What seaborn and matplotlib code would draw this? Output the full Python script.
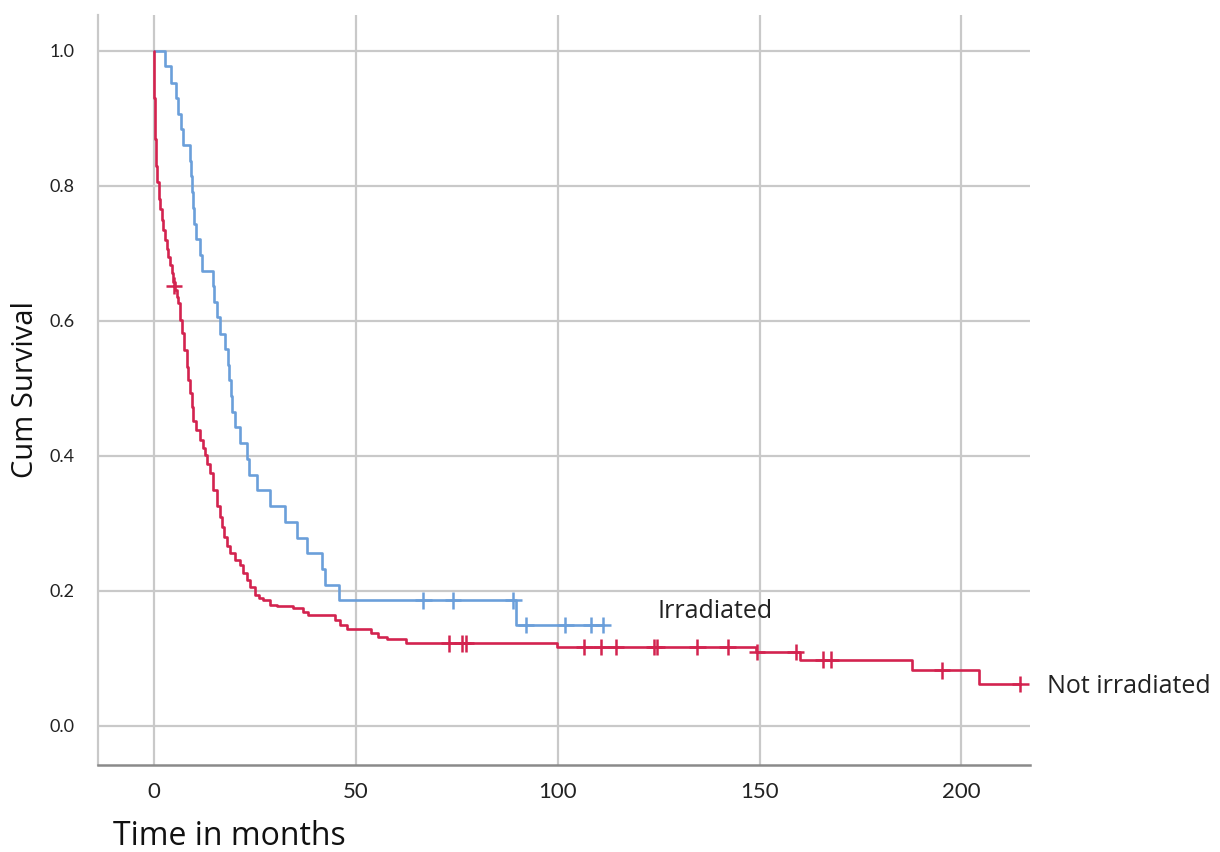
import pandas as pd
import matplotlib
matplotlib.use("Agg")
import matplotlib.pyplot as plt
import seaborn as sns

# Irradiated group: step times (months) and cumulative survival after each step
irr_time = [0, 2.7, 4.2, 5.5, 5.9, 6.7, 7.2, 8.9, 9.2, 9.4, 9.6, 9.8, 10.5, 11.4, 11.9,
            14.6, 14.9, 15.6, 16.4, 17.6, 18.3, 18.6, 19.0, 19.3, 20.1, 21.3, 22.9,
            23.4, 25.6, 28.7, 32.5, 35.4, 37.8, 41.6, 42.4, 45.7, 89.7, 111.2]
irr_surv = [1.000, 0.977, 0.953, 0.930, 0.907, 0.884, 0.860, 0.837, 0.814, 0.791,
            0.767, 0.744, 0.721, 0.698, 0.674, 0.651, 0.628, 0.605, 0.581, 0.558,
            0.535, 0.512, 0.488, 0.465, 0.442, 0.419, 0.395, 0.372, 0.349, 0.326,
            0.302, 0.279, 0.256, 0.233, 0.209, 0.186, 0.149, 0.149]
irr_cens_time = [66.7, 74.0, 89.0, 92.1, 101.9, 108.2, 111.2]
irr_cens_surv = [0.186, 0.186, 0.186, 0.149, 0.149, 0.149, 0.149]

# Not irradiated group
not_time = [0, 0.1, 0.25, 0.5, 0.7, 1.1, 1.5, 1.9, 2.3, 2.7, 3.1, 3.5, 4.0, 4.4, 4.8,
            5.2, 5.6, 6.0, 6.4, 6.9, 7.4, 8.1, 8.5, 8.9, 9.3, 9.7, 10.5, 11.4, 12.0,
            12.6, 13.2, 13.9, 14.6, 15.5, 16.4, 16.8, 17.3, 18.0, 18.8, 20.1, 21.3,
            22.1, 23.0, 23.8, 25.0, 26.0, 27.1, 28.7, 30.4, 34.4, 36.8, 38.2, 44.8,
            46.1, 47.8, 53.8, 55.5, 57.7, 62.5, 99.8, 149.0, 160.1, 187.8, 204.3, 214.6]
not_surv = [1.000, 0.930, 0.870, 0.830, 0.805, 0.780, 0.765, 0.750, 0.735, 0.720,
            0.707, 0.695, 0.683, 0.671, 0.658, 0.646, 0.636, 0.626, 0.601, 0.582,
            0.557, 0.532, 0.512, 0.493, 0.472, 0.452, 0.438, 0.424, 0.412, 0.401,
            0.388, 0.374, 0.350, 0.325, 0.310, 0.295, 0.280, 0.266, 0.256, 0.246,
            0.239, 0.226, 0.216, 0.206, 0.194, 0.190, 0.187, 0.179, 0.177, 0.174,
            0.169, 0.164, 0.157, 0.150, 0.144, 0.138, 0.132, 0.128, 0.122, 0.117,
            0.109, 0.098, 0.082, 0.062, 0.062]
not_cens_time = [5.0, 73.1, 76.4, 77.3, 106.6, 110.7, 114.5, 123.9, 124.5, 134.6,
                 142.1, 149.3, 158.9, 165.7, 167.7, 195.2, 214.6]
not_cens_surv = [0.652, 0.122, 0.122, 0.122, 0.117, 0.117, 0.117, 0.117, 0.117, 0.117,
                 0.117, 0.109, 0.109, 0.098, 0.098, 0.082, 0.062]

groups = ["Irradiated", "Not irradiated"]
colors = {"Irradiated": "#6b9fda", "Not irradiated": "#d3234f"}

curves = pd.concat([
    pd.DataFrame({"Time": irr_time, "Surv": irr_surv, "Group": groups[0]}),
    pd.DataFrame({"Time": not_time, "Surv": not_surv, "Group": groups[1]}),
])
censored = pd.concat([
    pd.DataFrame({"Time": irr_cens_time, "Surv": irr_cens_surv, "Group": groups[0]}),
    pd.DataFrame({"Time": not_cens_time, "Surv": not_cens_surv, "Group": groups[1]}),
])

sns.set_theme(style="whitegrid")
plt.rcParams["font.family"] = ["Lato", "DejaVu Sans"]
label_font = ["Open Sans", "DejaVu Sans"]

fig = plt.figure(figsize=(12.2, 8.52), dpi=100)
ax = fig.add_axes([0.0803, 0.1021, 0.764, 0.8803])

sns.lineplot(data=curves, x="Time", y="Surv", hue="Group", palette=colors,
             estimator=None, sort=False, drawstyle="steps-post", linewidth=1.9,
             legend=False, ax=ax)
sns.scatterplot(data=censored, x="Time", y="Surv", hue="Group", palette=colors,
                marker="+", s=140, linewidth=1.8, legend=False, ax=ax, zorder=3)

ax.set_xlim(-13.9, 217)
ax.set_ylim(-0.058, 1.053)
ax.set_xticks([0, 50, 100, 150, 200])
ax.set_yticks([0.0, 0.2, 0.4, 0.6, 0.8, 1.0])
ax.set_yticklabels(["0.0", "0.2", "0.4", "0.6", "0.8", "1.0"])
ax.grid(True, color="#c9c9c9", linewidth=1.6)
ax.set_facecolor("white")
for side in ["top", "right"]:
    ax.spines[side].set_visible(False)
ax.spines["left"].set_color("#c9c9c9")
ax.spines["left"].set_linewidth(1.6)
ax.spines["bottom"].set_color("#8a8a8a")
ax.spines["bottom"].set_linewidth(1.8)
ax.tick_params(axis="y", length=0, pad=17, labelsize=13, labelcolor="#222222")
ax.tick_params(axis="x", length=0, pad=12, labelsize=16, labelcolor="#222222")

ax.set_ylabel("Cum Survival", fontsize=21, color="#111111", va="center",
              family=label_font)
ax.yaxis.set_label_coords(-0.078, 0.5)
ax.set_xlabel("Time in months", fontsize=23, color="#111111", ha="left", va="center",
              family=label_font)
ax.xaxis.set_label_coords(0.016, -0.095)

ax.text(124.7, 0.170, "Irradiated", fontsize=18, color="#222222", va="center",
        family=label_font)
ax.text(221.3, 0.059, "Not irradiated", fontsize=18, color="#222222", va="center",
        family=label_font, clip_on=False)

fig.savefig("out.png", dpi=100, facecolor="white")
